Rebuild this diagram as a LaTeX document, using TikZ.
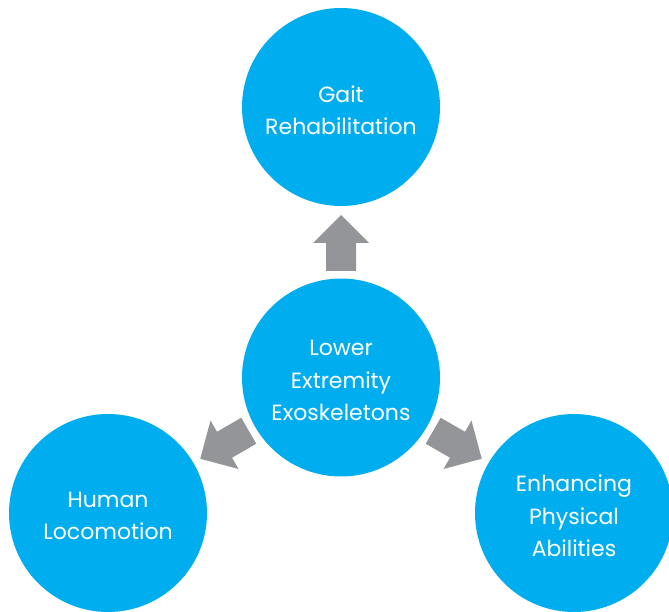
\documentclass[tikz,border=0pt]{standalone}
\usepackage{fontspec}
\setmainfont{Poppins}
\definecolor{bubble}{HTML}{00AEEF}
\definecolor{arrowgray}{HTML}{939598}
\begin{document}
\begin{tikzpicture}[x=1pt,y=-1pt,
  bubblenode/.style={circle, fill=bubble, draw=none, minimum size=198pt, inner sep=0pt},
  bubbletext/.style={text=white, align=center, font=\fontsize{22}{32.5}\selectfont, yshift=-3pt},
  blockarrow/.pic={\fill[arrowgray] (106.5,-15) -- (134.5,-15) -- (134.5,-28) -- (162.5,0)
     -- (134.5,28) -- (134.5,15) -- (106.5,15) -- cycle;}]
\useasboundingbox (0,0) rectangle (669,612);
\clip (0,0) rectangle (669,612);
\node[bubblenode, label={[bubbletext]center:Gait\\Rehabilitation}] (top) at (341,107) {};
\node[bubblenode, label={[bubbletext]center:Lower\\Extremity\\Exoskeletons}] (ctr) at (341,377.5) {};
\node[bubblenode, label={[bubbletext]center:Human\\Locomotion}] (bl) at (108,513) {};
\node[bubblenode, label={[bubbletext]center:Enhancing\\Physical\\Abilities}] (br) at (574,513) {};
\pic[rotate=90] at (ctr.center) {blockarrow};
\pic[rotate=210] at (ctr.center) {blockarrow};
\pic[rotate=330] at (ctr.center) {blockarrow};
\end{tikzpicture}
\end{document}
